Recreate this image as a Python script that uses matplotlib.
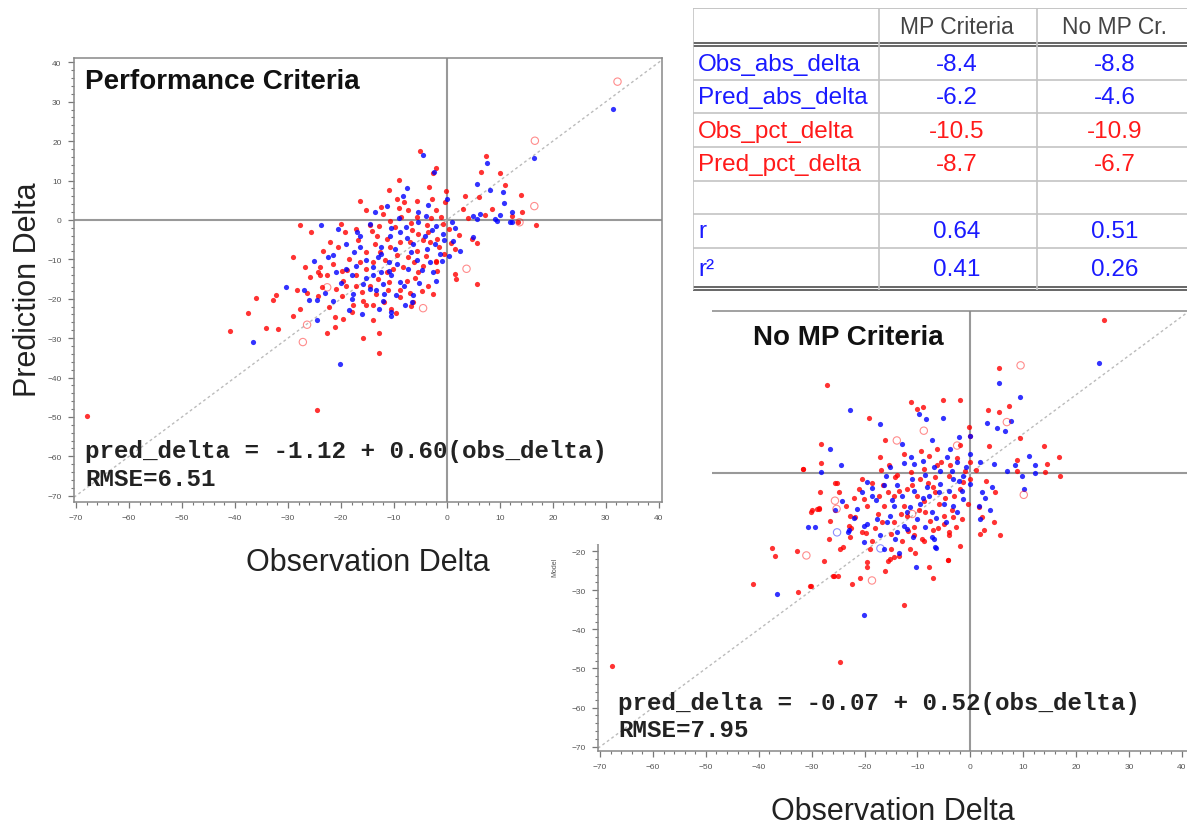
import matplotlib
matplotlib.use('Agg')
import matplotlib.pyplot as plt
from matplotlib.ticker import MultipleLocator
from matplotlib.patches import Rectangle

# %% data
# "Performance Criteria" panel (obs delta, pred delta)
perf_red_obs = [-5.0, 7.3, 6.4, 10.1, 10.9, 13.9, 14.2, 8.6, 6.1, 7.1,
                13.5, 16.8, 4.7, 5.6, 12.3, -2.7, -2.1, -9.1, -10.9, -16.4,
                -15.2, -12.4, -9.5, -8.1, -5.7, -3.4, -2.9, -0.1, -0.4, -2.0,
                -5.7, -8.6, -10.8, -14.6, -17.1, 3.4, 4.0, 3.1, -27.8, -25.6,
                -29.0, -26.8, -24.0, -36.0, -32.8, -19.9, -12.9, 5.6, 1.6, -2.0,
                -4.5, -7.0, -37.6, -41.0, -34.2, -31.9, -27.8, -29.0, -24.6, -22.6,
                -21.2, -21.2, -19.6, -18.0, -15.9, -12.9, -10.5, -15.2, -13.9, -15.8,
                -24.3, -28.3, -32.2, -19.6, -20.9, -19.0, -22.7, -24.3, -25.9, -24.0,
                -23.4, -19.3, -8.9, -6.4, -6.7, -2.6, -3.5, -2.1, -1.8, -5.4,
                -7.6, -8.9, -11.1, -13.3, -14.6, -17.1, -17.1, -15.2, -13.9, -11.7,
                -9.5, -7.3, -5.7, -3.2, -1.9, -5.4, -8.9, -12.7, -15.2, -11.4,
                -13.6, -11.4, -16.4, 1.8, -67.9, -9.8, -6.5, -3.8, -1.2, 0.3,
                1.5, -0.6, -10.2, -18.5, -21.6, -12.1, -7.4, 2.2, -4.6, -16.8,
                -20.5, -14.2,
                -22.0, -18.8, -16.0, -13.0, -10.8, -8.2, -6.0, -4.0, -1.5, -0.8,
                -3.0, -6.8, -9.0, -12.8, -20.0, -23.5, -26.5, -11.8, -9.6, -4.8,
                -7.0, -17.8, -14.0, -22.2, -3.6, 0.8, -11.0, -19.8, -13.2, -6.2]
perf_red_pred = [17.4, 16.3, 12.2, 11.8, 8.9, 6.3, 2.1, 2.8, 5.8, 1.3,
                 -0.6, -1.2, -4.8, -5.9, 1.1, 11.9, 13.1, 10.2, 7.7, 4.7,
                 2.4, 3.2, 5.3, 4.5, 4.9, 8.3, 5.3, 7.4, 4.5, 2.4,
                 0.7, 0.7, -0.2, -1.4, -2.3, 6.0, 0.4, 2.8, -1.3, -3.0,
                 -9.5, -12.0, -14.1, -19.8, -20.3, -19.2, -33.8, -16.2, -13.7, -10.5,
                 -5.2, -5.7, -23.7, -28.3, -27.4, -27.7, -22.6, -24.4, -48.2, -28.7,
                 -27.2, -24.7, -25.1, -23.4, -30.0, -28.7, -22.6, -21.7, -21.6, -20.5,
                 -19.2, -17.8, -19.0, -15.4, -17.5, -16.7, -14.1, -13.3, -14.5, -12.0,
                 -8.0, -3.1, -19.6, -20.9, -21.9, -18.8, -16.8, -10.7, -12.9, -13.3,
                 -15.4, -17.9, -17.8, -18.8, -16.7, -16.7, -14.1, -12.4, -10.7, -10.3,
                 -9.0, -9.5, -7.8, -5.7, -4.8, -3.5, -5.7, -8.2, -8.2, -4.8,
                 -6.1, -13.3, -10.7, -15.0, -49.7, -1.8, -2.5, -1.2, 0.8, -2.2,
                 -7.5, -8.6, -12.4, -9.8, -11.2, 1.5, 2.6, -3.8, -11.8, -5.2,
                 -6.8, -2.9,
                 -5.5, -12.6, -18.2, -15.0, -7.0, -12.0, -14.8, -9.2, -6.8, -1.0,
                 0.5, -0.8, 3.0, -1.5, -1.0, -17.0, -18.5, -20.8, -23.5, -18.0,
                 -18.5, -21.5, -25.5, -22.0, -3.0, -5.8, -15.8, -13.0, -4.0, -10.8]
perf_blue_obs = [-4.5, -2.4, 7.6, 10.5, 0.0, -7.6, -13.6, -11.4, -23.8, -20.5,
                 5.0, 1.2, 2.5, 0.4, -6.4, -20.2, -36.7, -30.4, 11.9, 5.0,
                 9.1, 31.3, 16.5, 5.6, 8.1, 10.8, 12.2, 10.1, 6.2, 9.4,
                 12.3, 5.6, -27.0, -26.1, -24.6, -21.6, -18.0, -17.7, -10.6, -10.6,
                 -12.0, -14.6, -13.3, -8.1, -6.5, -8.9, -10.5, -12.4, -13.9, -15.2,
                 -17.1, -19.0, -20.9, -21.5, -19.0, -16.4, -15.2, -12.4, -10.8, -9.8,
                 -8.9, -6.4, -3.8, -2.3, -1.3, -3.2, -2.6, -5.7, -7.3, -12.0,
                 -14.5, -9.0, -5.5, -2.0, -0.8, -12.5, -17.5, -7.8, -4.2, -11.0,
                 -3.5, -24.5, -16.0, 1.0,
                 -22.5, -18.0, -15.8, -11.8, -9.5, -6.8, -4.8, -1.0, -0.5, -2.8,
                 -5.5, -10.5, -13.0, -16.5, -20.0, -23.0, -8.0, -5.2, -9.6, -12.8,
                 -18.5, 1.5, -3.9, -7.5, -14.0, -11.0, -17.0, -25.0, -2.0, -8.2]
perf_blue_pred = [16.5, 12.1, 14.4, 7.0, 5.3, 8.0, 1.9, 3.6, -1.3, -2.3,
                  -4.4, -5.4, -8.0, -9.1, -19.0, -36.5, -31.0, -17.1, -0.6, 1.1,
                  0.3, 28.2, 15.7, 9.1, 7.6, 4.3, 1.9, 1.3, 1.5, -0.4,
                  -0.6, 0.3, -17.8, -20.3, -20.3, -20.6, -20.0, -18.8, -24.5, -23.4,
                  -20.5, -17.5, -17.9, -16.8, -20.9, -15.8, -14.1, -13.3, -14.1, -14.8,
                  -11.8, -12.4, -13.3, -9.0, -6.1, -4.0, -10.3, -8.6, -4.0, -7.4,
                  -3.1, -6.1, -7.4, -6.1, -8.6, -10.7, -13.3, -10.3, -12.4, -16.2,
                  -1.0, 0.5, 2.0, -1.5, -3.5, -6.8, -8.2, -1.8, -4.0, -10.8,
                  3.8, -25.5, -23.8, -0.5,
                  -9.5, -14.0, -16.2, -18.8, -11.2, -8.2, -12.8, -10.5, -5.0, -2.5,
                  -0.5, -2.0, -9.5, -7.0, -16.0, -18.5, -21.5, -16.0, -19.0, -22.5,
                  -22.8, -2.0, 1.0, -4.6, -12.0, -13.0, -3.0, -10.5, -15.5, 6.0]
perf_open_obs = [32.2, 16.6, 16.5, 13.7, 3.7, -4.5, -26.4, -27.2, -22.6]
perf_open_pred = [35.1, 20.1, 3.5, -0.6, -12.4, -22.4, -26.6, -31.0, -17.1]

# "No MP Criteria" panel
nomp_red_obs = [25.3, -27.1, 5.4, -11.2, -5.2, -1.9, -10.1, -9.0, -19.2, 3.3,
                5.4, 7.3, 9.3, -0.2, -0.1, -1.9, 3.5, 14.0, 16.7, 14.5,
                14.2, 17.0, 8.8, 8.8, 4.7, 5.7, -28.2, -31.6, -28.2, -16.1,
                -9.3, -6.3, -6.3, -3.8, -17.0, -15.4, -14.2, -11.3, -8.8, -6.6,
                -4.1, -1.3, -0.1, 0.0, -25.3, -28.4, -29.9, -28.6, -26.5, -22.7,
                -20.2, -17.3, -14.5, -19.5, -16.4, -12.6, -8.8, -6.6, -5.0, -3.2,
                -1.6, -7.6, -10.7, -14.5, -20.5, -18.6, -24.6, -15.2, -8.8, -7.1,
                -4.1, -1.9, 1.8, -4.2, -7.9, -12.6, -19.5, -25.8, -30.4, -32.5,
                -37.5, -36.9, -32.8, -41.0, -22.7, -27.6, -30.2, -26.0, -25.1, -22.4,
                -20.8, -19.5, -16.1, -15.5, -14.5, -13.5, -24.6, -7.1, -4.3, -24.0,
                -28.7, -21.9, -19.7, -16.7, -13.2, -10.7, -15.0, -4.1, -5.0, -9.1,
                4.4, 2.5, 1.6, 2.2, -31.7, -25.5, -24.9, -28.9, -30.2, -23.6,
                -67.7, -11.0, -8.0, -13.5, -9.8, -3.0, -18.5, -21.0, -6.0, -2.5,
                -12.5, 1.0, -15.0, -11.5, -23.0,
                -20.5, -17.5, -12.0, -10.0, -7.0, -4.8, -2.0, -1.0, -5.5, -9.5,
                -13.8, -16.8, -22.0, -18.0, -13.0, -10.5, -6.2, -3.5, -8.5, -12.0,
                -15.5, -19.0, -22.5, -26.8, -2.8, -0.5, -7.8, -11.8, -16.5, 3.0]
nomp_red_pred = [39.0, 22.6, 26.8, 18.2, 18.7, 18.7, 16.4, 16.8, 14.0, 16.1,
                 15.7, 17.1, 9.0, 11.7, 9.5, 7.2, 7.0, 7.0, 4.0, 2.3,
                 0.2, -0.7, 3.2, 0.6, -4.8, -16.0, 7.4, 1.0, 2.5, 8.3,
                 5.5, 6.1, 2.0, 1.9, 4.0, 2.1, -1.1, 0.2, 1.0, -1.1,
                 -0.7, -2.4, -1.5, 2.7, -2.6, -4.8, -9.6, -9.0, -12.2, -10.9,
                 -6.6, -5.8, -5.8, -8.4, -8.4, -8.4, -7.1, -4.9, -10.9, -11.3,
                 -11.8, -12.2, -13.9, -12.6, -15.2, -17.3, -19.4, -22.0, -17.3, -14.7,
                 -16.0, -18.6, -15.6, -22.2, -24.1, -33.7, -24.1, -26.3, -28.8, -30.5,
                 -19.2, -21.3, -20.0, -28.4, -16.5, -22.6, -29.0, -26.4, -26.4, -28.4,
                 -26.9, -22.8, -25.0, -22.4, -21.6, -21.3, -48.3, -26.9, -22.3, -19.0,
                 -9.2, -11.3, -15.3, -12.6, -10.5, -16.0, -19.4, -15.2, -13.0, -16.9,
                 -12.6, -14.7, -8.8, -11.3, 0.9, -2.6, -4.8, -9.2, -9.9, -8.4,
                 -49.4, -3.0, -2.5, -4.5, -9.5, -5.8, -2.5, -4.0, -8.0, 3.8,
                 4.8, 0.8, -15.5, -19.5, -13.5,
                 -1.5, -10.5, -4.0, -6.0, -3.5, -6.5, -4.0, 0.5, 2.8, -1.5,
                 -0.5, 0.8, -6.5, -14.0, -17.5, -20.5, -14.0, -9.5, -10.0, -11.0,
                 -5.0, -19.5, -14.0, -17.0, -13.8, -8.0, 4.2, -14.8, -3.0, -2.0]
nomp_blue_obs = [24.3, 5.4, 9.3, -22.8, -17.0, -9.8, -8.3, -5.2, 0.0, 3.2,
                 5.0, 6.6, 7.6, -2.2, -7.2, -12.9, -26.5, -24.4, -28.2, 11.0,
                 12.3, 8.5, 6.9, 9.8, 12.3, 4.4, 1.9, 0.0, -2.5, -3.5,
                 -6.9, -10.7, -12.5, -15.1, -19.5, -18.6, -16.4, -13.9, -10.7, -8.2,
                 -5.7, -3.2, -1.3, 0.0, 2.2, 4.1, 1.6, 3.8, 1.9, 10.1,
                 -21.4, -23.0, -30.6, -29.3, -20.2, -17.6, -15.1, -12.6, -10.1, -7.2,
                 -5.0, -3.2, -1.3, -13.9, -12.0, -16.4, -14.2, -6.6, -7.2, -36.5,
                 -20.2, -23.2, -10.2, -6.4, -20.2, -24.3, -9.0, -14.8, -6.0, -11.5,
                 -17.8, -4.5, -8.6,
                 -18.5, -15.8, -13.0, -9.5, -6.5, -4.0, -2.2, -0.8, -4.6, -7.8,
                 -11.0, -14.5, -20.5, -17.0, -10.8, -8.5, -2.5, -5.8, -9.0, -12.0,
                 -16.0, -22.0, -25.5, -19.5, -1.5, 2.8, -3.8, -6.8, -13.5, -11.3]
nomp_blue_pred = [28.1, 23.0, 19.4, 16.2, 12.5, 15.1, 13.8, 14.0, 9.5, 12.8,
                  11.4, 10.8, 13.4, 9.1, 8.4, 7.4, 6.1, 2.1, 0.3, 4.4,
                  2.0, 1.9, 0.6, -0.7, 0.0, 2.3, 2.7, 4.9, 2.7, 0.6,
                  1.4, 2.3, 2.6, 1.4, -2.2, -3.9, -3.2, -3.2, -4.5, -3.7,
                  -2.8, -1.5, -0.7, -2.8, -4.9, -3.7, -8.4, -9.6, -11.8, -4.1,
                  -9.2, -14.7, -13.9, -13.9, -13.5, -11.8, -10.9, -13.5, -11.8, -10.1,
                  -7.9, -8.4, -6.6, -15.2, -14.3, -19.4, -16.9, -19.0, -16.5, -30.9,
                  -36.2, -15.2, -24.1, -19.3, -17.6, -7.1, -6.5, -6.8, -5.0, -8.8,
                  -7.0, 4.0, -0.5,
                  -6.0, -12.5, -6.0, -8.0, -11.5, -4.5, -2.0, 1.5, -12.5, -6.0,
                  -1.5, -8.5, -4.8, -16.0, -16.5, -13.8, -10.0, 0.5, 3.0, -10.0,
                  -0.8, -11.5, -9.5, -13.0, -4.5, -6.5, 6.0, -16.8, -20.5, 4.0]
nomp_open_red_obs = [9.5, -8.8, 6.9, 10.1, -25.6, -18.6, -31.0, -25.3, -11.0, -2.5, -13.9]
nomp_open_red_pred = [27.5, 10.8, 13.0, -5.6, -7.1, -27.5, -21.1, -9.2, -10.5, 7.0, 8.3]
nomp_open_blue_obs = [-25.2, -17.0]
nomp_open_blue_pred = [-15.2, -19.3]

# summary table
table_rows = ['Obs_abs_delta', 'Pred_abs_delta', 'Obs_pct_delta', 'Pred_pct_delta', '', 'r', 'r²']
table_mp = ['-8.4', '-6.2', '-10.5', '-8.7', '', '0.64', '0.41']
table_nomp = ['-8.8', '-4.6', '-10.9', '-6.7', '', '0.51', '0.26']
table_colors = ['#1a1aff', '#1a1aff', '#ff1a1a', '#ff1a1a', 'k', '#1a1aff', '#1a1aff']

RED = '#ff0000'
BLUE = '#0000ff'

plt.rcParams['font.family'] = ['Liberation Sans', 'DejaVu Sans']

W, H = 1187, 828
fig = plt.figure(figsize=(W / 100, H / 100), dpi=100)


def style_panel(ax):
    ax.set_xlim(-70.4, 40.6)
    ax.set_ylim(-71.4, 41.2)
    ax.xaxis.set_major_locator(MultipleLocator(10))
    ax.xaxis.set_minor_locator(MultipleLocator(2))
    ax.yaxis.set_major_locator(MultipleLocator(10))
    ax.yaxis.set_minor_locator(MultipleLocator(2))
    ax.tick_params(which='major', direction='out', length=4, width=0.9, color='#777',
                   labelsize=6, labelcolor='#555', pad=5)
    ax.tick_params(which='minor', direction='out', length=2, width=0.8, color='#777')
    for sp in ax.spines.values():
        sp.set_color('#888')
        sp.set_linewidth(1.1)
    ax.axhline(0, color='#999', lw=1.5, zorder=1)
    ax.axvline(0, color='#999', lw=1.5, zorder=1)
    ax.axline((0, 0), slope=1, color='#bbb', lw=1.0, ls=(0, (2, 2)), zorder=1)


def scatter(ax, x, y, color):
    ax.scatter(x, y, s=14, color=color, alpha=0.8, linewidths=0, zorder=2)


# %% No MP Criteria panel (lower right, partly hidden)
ax2 = fig.add_axes([598 / W, (H - 752) / H, 595 / W, 440 / H])
ax2.set_zorder(1)
style_panel(ax2)
ax2.set_xlim(-70.4, 42.1)
ax2.set_ylim(-71.1, 41.4)
scatter(ax2, nomp_red_obs, nomp_red_pred, RED)
scatter(ax2, nomp_blue_obs, nomp_blue_pred, BLUE)
ax2.scatter(nomp_open_red_obs, nomp_open_red_pred, s=28, facecolors='none',
            edgecolors=RED, linewidths=0.8, alpha=0.45, zorder=2)
ax2.scatter(nomp_open_blue_obs, nomp_open_blue_pred, s=28, facecolors='none',
            edgecolors=BLUE, linewidths=0.8, alpha=0.45, zorder=2)
ax2.text(0.26, 0.941, 'No MP Criteria', transform=ax2.transAxes, fontsize=20,
         fontweight='bold', color='#111', va='center', ha='left')
ax2.text(0.034, 0.111, 'pred_delta = -0.07 + 0.52(obs_delta)', transform=ax2.transAxes,
         family='Liberation Mono', fontweight='bold', fontsize=17.4, color='#222', va='center')
ax2.text(0.034, 0.048, 'RMSE=7.95', transform=ax2.transAxes,
         family='Liberation Mono', fontweight='bold', fontsize=17.4, color='#222', va='center')
ax2.set_xlabel('Observation Delta', fontsize=22, color='#222', va='center')
ax2.xaxis.set_label_coords(295 / 595, -0.136)
ax2.set_ylabel('Model', fontsize=5, color='#555', va='center')
ax2.yaxis.set_label_coords(-0.073, 0.42)

# white backing of the upper-left chart, covering the lower one
fig.patches.append(Rectangle((0, 1 - 545 / H), 712 / W, 545 / H, transform=fig.transFigure,
                             facecolor='white', edgecolor='none', zorder=1.5))

# %% Performance Criteria panel (upper left)
ax1 = fig.add_axes([74 / W, (H - 503) / H, 588 / W, 444 / H])
ax1.set_zorder(2)
style_panel(ax1)
ax1.set_ylim(-71.6, 41.1)
scatter(ax1, perf_red_obs, perf_red_pred, RED)
scatter(ax1, perf_blue_obs, perf_blue_pred, BLUE)
ax1.scatter(perf_open_obs, perf_open_pred, s=28, facecolors='none',
            edgecolors=RED, linewidths=0.8, alpha=0.45, zorder=2)
ax1.text(0.019, 0.948, 'Performance Criteria', transform=ax1.transAxes, fontsize=20,
         fontweight='bold', color='#111', va='center', ha='left')
ax1.text(0.019, 0.115, 'pred_delta = -1.12 + 0.60(obs_delta)', transform=ax1.transAxes,
         family='Liberation Mono', fontweight='bold', fontsize=17.4, color='#222', va='center')
ax1.text(0.019, 0.052, 'RMSE=6.51', transform=ax1.transAxes,
         family='Liberation Mono', fontweight='bold', fontsize=17.4, color='#222', va='center')
ax1.set_xlabel('Observation Delta', fontsize=22, color='#222', va='center')
ax1.xaxis.set_label_coords(0.5, -0.135)
ax1.set_ylabel('Prediction Delta', fontsize=22, color='#222', va='center')
ax1.yaxis.set_label_coords(-0.078, 0.48)

# %% summary table (upper right)
tab = fig.add_axes([693 / W, 1 - 292 / H, 497 / W, 283 / H])
tab.set_zorder(3)
tab.set_xlim(0, 497)
tab.set_ylim(283, 0)
tab.axis('off')
tab.add_patch(Rectangle((0, 0), 497, 283, facecolor='white', edgecolor='none'))
col_edges = [0, 186, 344]
row_lines = [72, 105, 139, 173, 206, 240]
tab.hlines(0, 0, 497, color='#bbb', lw=1.2)
tab.hlines(row_lines, 0, 497, color='#c4c4c4', lw=1.2)
tab.hlines([35, 38, 279, 282], 0, 497, color='#666', lw=1.4)
tab.vlines(col_edges, 0, 282, color='#c4c4c4', lw=1.2)
tab.text(264, 18, 'MP Criteria', ha='center', va='center', fontsize=16.5, color='#444')
tab.text(422, 18, 'No MP Cr.', ha='center', va='center', fontsize=16.5, color='#444')
row_y = [56, 89, 123, 156, 190, 223, 261]
for label, v1, v2, c, y in zip(table_rows, table_mp, table_nomp, table_colors, row_y):
    tab.text(5, y, label, ha='left', va='center', fontsize=17.5, color=c)
    tab.text(264, y, v1, ha='center', va='center', fontsize=17.5, color=c)
    tab.text(422, y, v2, ha='center', va='center', fontsize=17.5, color=c)

fig.savefig('out.png', dpi=100)
